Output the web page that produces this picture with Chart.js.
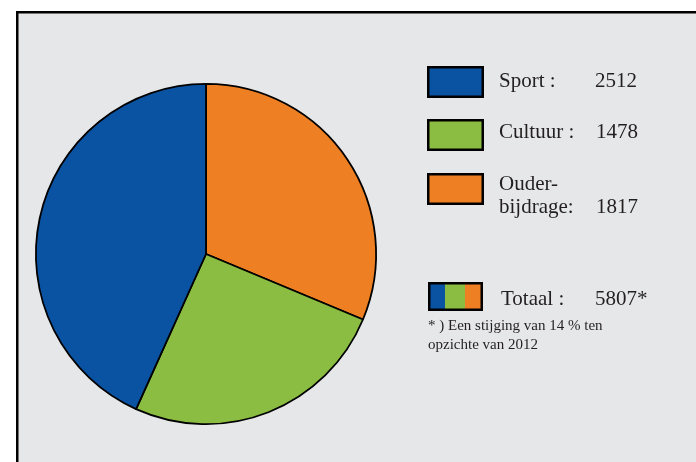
<!DOCTYPE html>
<html>
<head>
<meta charset="utf-8">
<script src="https://cdn.jsdelivr.net/npm/chart.js@4"></script>
<style>
  body { margin: 0; background: #fff; }
  .chartbox { position: relative; width: 696px; height: 462px; }
</style>
</head>
<body>
<div class="chartbox"><canvas id="taart"></canvas></div>
<script>
// waarden uit de figuur
const categorieen = ['Ouderbijdrage', 'Cultuur', 'Sport'];
const bedragen = [1817, 1478, 2512];
const kleuren = ['#ee7f22', '#8abd41', '#0a53a3'];
const totaal = 5807;
const voetnoot = ['* ) Een stijging van 14 % ten', 'opzichte van 2012'];

const lettertype = "'Liberation Serif', serif";
const tekstkleur = '#231f20';

// grijze kader achter de taart
const kader = {
    id: 'kader',
    beforeDraw(chart) {
        const c = chart.ctx;
        c.save();
        c.fillStyle = '#e6e7e8';
        c.fillRect(17, 12, 700, 470);
        c.strokeStyle = '#000';
        c.lineWidth = 2.5;
        c.strokeRect(17.25, 12.25, 700, 470);
        c.restore();
    }
};

// eigen legenda rechts
const legenda = {
    id: 'legenda',
    afterDraw(chart) {
        const c = chart.ctx;
        c.save();
        c.lineWidth = 2.5;
        c.strokeStyle = '#000';

        function vakje(x, y, w, h, kleur) {
            c.fillStyle = kleur;
            c.fillRect(x, y, w, h);
            c.strokeRect(x + 1.25, y + 1.25, w - 2.5, h - 2.5);
        }
        function tekst(s, x, y, size) {
            c.font = size + 'px ' + lettertype;
            c.fillStyle = tekstkleur;
            c.textBaseline = 'alphabetic';
            c.fillText(s, x, y);
        }

        vakje(427, 66, 57, 32, kleuren[2]);
        tekst('Sport :', 499, 87, 21);
        tekst(String(bedragen[2]), 595, 87, 21);

        vakje(427, 119, 57, 32, kleuren[1]);
        tekst('Cultuur :', 499, 138, 21);
        tekst(String(bedragen[1]), 596, 138, 21);

        vakje(427, 173, 57, 32, kleuren[0]);
        tekst('Ouder-', 499, 190, 21);
        tekst('bijdrage:', 499, 213, 21);
        tekst(String(bedragen[0]), 596, 213, 21);

        // totaal: drie strepen
        const bx = 428, by = 282, bw = 55, bh = 29;
        c.fillStyle = kleuren[2]; c.fillRect(bx, by, 17, bh);
        c.fillStyle = kleuren[1]; c.fillRect(bx + 17, by, 20, bh);
        c.fillStyle = kleuren[0]; c.fillRect(bx + 37, by, bw - 37, bh);
        c.strokeRect(bx + 1.25, by + 1.25, bw - 2.5, bh - 2.5);
        tekst('Totaal :', 501, 305, 21);
        tekst(totaal + '*', 595, 305, 21);

        tekst(voetnoot[0], 428, 330, 15);
        tekst(voetnoot[1], 428, 349, 15);
        c.restore();
    }
};

new Chart(document.querySelector('#taart'), {
    type: 'pie',
    data: {
        labels: categorieen,
        datasets: [{
            data: bedragen,
            backgroundColor: kleuren,
            borderColor: '#000',
            borderWidth: 1.8,
        }]
    },
    options: {
        responsive: true,
        maintainAspectRatio: false,
        animation: false,
        layout: { padding: { left: 35, top: 83, right: 319, bottom: 37 } },
        plugins: {
            legend: { display: false },
            tooltip: { enabled: false },
        },
    },
    plugins: [kader, legenda]
});
</script>
</body>
</html>
